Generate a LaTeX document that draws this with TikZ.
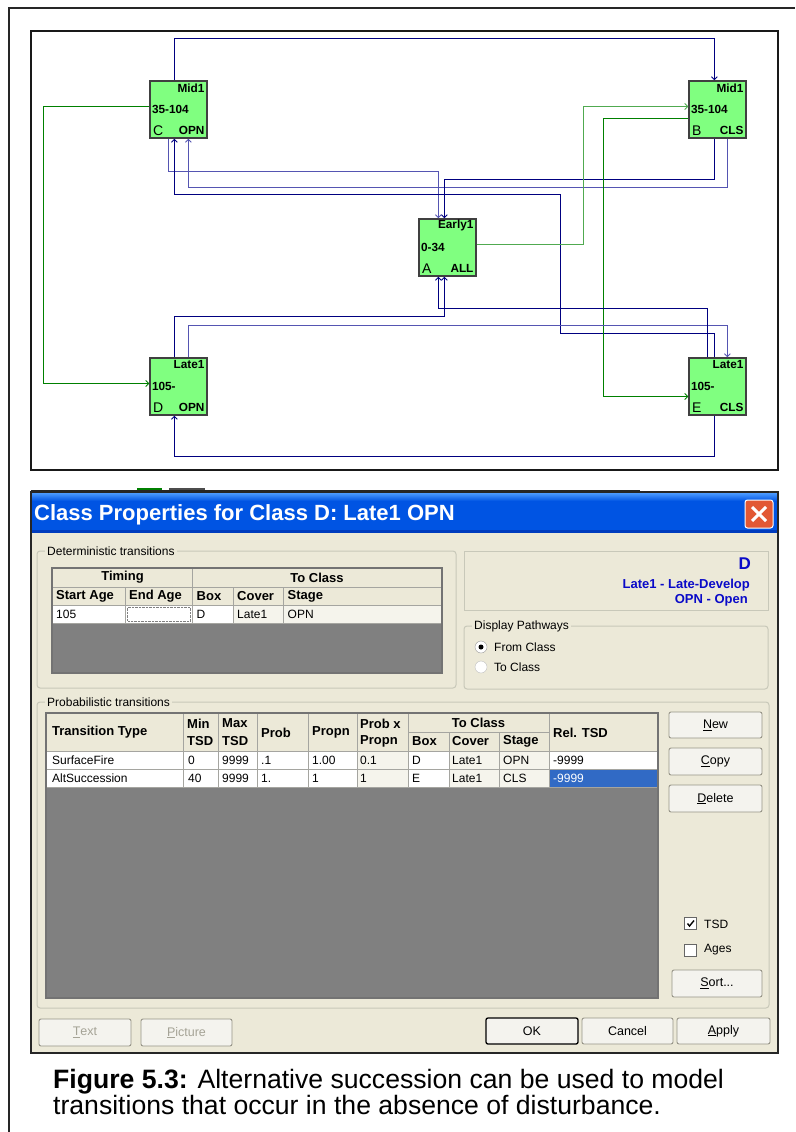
\documentclass[tikz,border=0pt]{standalone}
\usepackage{fontspec}
\setmainfont{Liberation Sans}
\usetikzlibrary{arrows.meta,calc,backgrounds}
\newcommand\fsz[1]{\fontsize{#1}{#1}\selectfont}
\definecolor{nav}{RGB}{0,0,128}
\definecolor{lnav}{RGB}{85,85,178}
\definecolor{grn}{RGB}{0,128,0}
\definecolor{lgrn}{RGB}{80,170,80}
\definecolor{boxfill}{RGB}{128,255,128}
\definecolor{boxedge}{RGB}{64,64,64}
\definecolor{dlg}{RGB}{236,233,216}
\definecolor{cellro}{RGB}{245,244,236}
\definecolor{xpblue}{RGB}{0,84,227}
\definecolor{xplight}{RGB}{70,150,255}
\definecolor{xpdark}{RGB}{0,60,190}
\definecolor{gridc}{RGB}{165,165,160}
\definecolor{grpline}{RGB}{200,200,185}
\definecolor{infoblue}{RGB}{10,10,200}
\definecolor{selblue}{RGB}{49,106,197}
\definecolor{darea}{RGB}{128,128,128}
\definecolor{btnedge}{RGB}{150,148,135}
\definecolor{btnf}{RGB}{244,243,238}
\definecolor{disabled}{RGB}{165,163,150}
\definecolor{closered}{RGB}{226,88,52}
\begin{document}
\begin{tikzpicture}[x=1pt,y=-1pt,
  cls/.style={draw=boxedge,line width=1.3pt,fill=boxfill,minimum width=57pt,minimum height=57pt,inner sep=0pt},
  nb/.style={inner sep=0pt,font=\fsz{11.8}\bfseries},
  nr/.style={inner sep=0pt,font=\fsz{14}},
  dk/.style={draw=nav,line width=1pt},
  lt/.style={draw=lnav,line width=1pt},
  gn/.style={draw=grn,line width=1pt},
  lg/.style={draw=lgrn,line width=1pt},
  arr/.style={-{Straight Barb[length=3pt,width=6pt,line width=0.9pt]}},
  loopc/.style={draw=lnav,line width=1pt},
  tx/.style={inner sep=0pt,anchor=west,font=\fsz{12}},
  th/.style={inner sep=0pt,anchor=west,font=\fsz{13}\bfseries},
  btn/.style={draw=btnedge,fill=btnf,rounded corners=2pt,line width=0.9pt,inner sep=0pt,font=\fsz{12.5}},
  grp/.style={draw=grpline,line width=1pt,rounded corners=3pt},
  glab/.style={inner xsep=2pt,inner ysep=1pt,anchor=west,fill=dlg,font=\fsz{12}}
]
\useasboundingbox (0,0) rectangle (795,1132);
\fill[white] (0,0) rectangle (795,1132);
% page frame
\draw[line width=2pt,black!85] (8.5,1132) -- (8.5,8.5) -- (795,8.5);
% diagram frame
\begin{scope}[on background layer]
\fill[white] (31,31) rectangle (778,470);
\end{scope}
\draw[line width=2pt,black!90] (31,31) rectangle (778,470);

% class boxes
\node[cls] (C) at (178.5,109.5) {};
\node[cls] (B) at (717.5,109.5) {};
\node[cls] (A) at (447.5,247.5) {};
\node[cls] (D) at (178.5,386.5) {};
\node[cls] (E) at (717.5,386.5) {};

\node[nb,anchor=east] (Ct) at ($(C.north east)+(-3,7.5)$) {Mid1};
\node[nb,anchor=west] (Cm) at ($(C.west)+(2.5,0)$) {35-104};
\node[nr,anchor=west] (Cl) at ($(C.south west)+(3.5,-8)$) {C};
\node[nb,anchor=east] (Cr) at ($(C.south east)+(-3,-8)$) {OPN};

\node[nb,anchor=east] (Bt) at ($(B.north east)+(-3,7.5)$) {Mid1};
\node[nb,anchor=west] (Bm) at ($(B.west)+(2.5,0)$) {35-104};
\node[nr,anchor=west] (Bl) at ($(B.south west)+(3.5,-8)$) {B};
\node[nb,anchor=east] (Br) at ($(B.south east)+(-3,-8)$) {CLS};

\node[nb,anchor=east] (At) at ($(A.north east)+(-3,7.5)$) {Early1};
\node[nb,anchor=west] (Am) at ($(A.west)+(2.5,0)$) {0-34};
\node[nr,anchor=west] (Al) at ($(A.south west)+(3.5,-8)$) {A};
\node[nb,anchor=east] (Ar) at ($(A.south east)+(-3,-8)$) {ALL};

\node[nb,anchor=east] (Dt) at ($(D.north east)+(-3,7.5)$) {Late1};
\node[nb,anchor=west] (Dm) at ($(D.west)+(2.5,0)$) {105-};
\node[nr,anchor=west] (Dl) at ($(D.south west)+(3.5,-8)$) {D};
\node[nb,anchor=east] (Dr) at ($(D.south east)+(-3,-8)$) {OPN};

\node[nb,anchor=east] (Et) at ($(E.north east)+(-3,7.5)$) {Late1};
\node[nb,anchor=west] (Em) at ($(E.west)+(2.5,0)$) {105-};
\node[nr,anchor=west] (El) at ($(E.south west)+(3.5,-8)$) {E};
\node[nb,anchor=east] (Er) at ($(E.south east)+(-3,-8)$) {CLS};

% self loops
\begin{scope}[on background layer]
\draw[loopc] ($(C.south east)+(5,0)$) circle[radius=14pt];
\draw[loopc] ($(B.south east)+(5,0)$) circle[radius=14pt];
\draw[loopc] ($(A.south east)+(5,0)$) circle[radius=14pt];
\draw[loopc] ($(D.south east)+(5,0)$) circle[radius=14pt];
\draw[loopc] ($(E.south east)+(5,0)$) circle[radius=14pt];
\end{scope}

% connectors
\draw[dk,arr] ($(C.north west)+(25,0)$) -- ++(0,-42) -| ($(B.north west)+(26,0)$);
\draw[gn,arr] ($(C.west)+(0,-3.5)$) -- ++(-106,0) |- ($(D.west)+(0,-3)$);
\draw[lt,arr] ($(C.south west)+(19,0)$) -- ++(0,33) -| ($(A.north west)+(20,0)$);
\draw[dk,arr] ($(E.north west)+(26,0)$) -- ++(0,-24) -- ++(-154,0) -- ++(0,-139) -| ($(C.south west)+(25,0)$);
\draw[lt,arr] ($(B.south west)+(39,0)$) -- ++(0,49) -| ($(C.south west)+(39,0)$);
\draw[dk,arr] ($(B.south west)+(26,0)$) -- ++(0,41) -| ($(A.north west)+(26,0)$);
\draw[lg,arr] ($(A.east)+(0,-3)$) -- ++(107,0) |- ($(B.west)+(0,-3)$);
\draw[gn,arr] ($(B.west)+(0,9)$) -- ++(-85,0) |- ($(E.west)+(0,10)$);
\draw[dk,arr] ($(D.north west)+(25,0)$) -- ++(0,-41) -| ($(A.south west)+(26,0)$);
\draw[lt,arr] ($(D.north west)+(39,0)$) -- ++(0,-32) -| ($(E.north west)+(39,0)$);
\draw[dk,arr] ($(E.south west)+(26,0)$) -- ++(0,41) -| ($(D.south west)+(25,0)$);
\draw[dk,arr] ($(E.north west)+(19,0)$) -- ++(0,-49) -| ($(A.south west)+(20,0)$);

% strip of window behind
\draw[line width=1.5pt,black!85] (31,491) -- (640,491);
\fill[grn] (137,487.5) rectangle (162,490);
\fill[black!70] (169,487.5) rectangle (205,490);

% dialog
\fill[dlg] (31,492) rectangle (778,1053);
\shade[top color=xplight,bottom color=xpblue] (32,493.5) rectangle (777,501);
\fill[xpblue] (32,501) rectangle (777,530);
\fill[xpdark] (32,530) rectangle (777,533);
\draw[line width=1.5pt,black!85] (31,492) rectangle (778,1053);
\node[inner sep=0pt,anchor=west,text=white,font=\fsz{22}\bfseries] (title) at (34,515) {Class Properties for Class D: Late1 OPN};
\node[draw=white,fill=closered,rounded corners=2.5pt,minimum size=28pt,line width=1pt,inner sep=0pt] (xbtn) at (759,514) {};
\draw[white,line width=3pt] ($(xbtn.center)+(-7,-7)$) -- ($(xbtn.center)+(7,7)$);
\draw[white,line width=3pt] ($(xbtn.center)+(-7,7)$) -- ($(xbtn.center)+(7,-7)$);

% deterministic group
\draw[grp] (37,551) rectangle (456,688);
\node[glab] (g1) at (45,551) {Deterministic transitions};
\fill[dlg] (52,568) rectangle (442,605.5);
\fill[white] (52,605.5) rectangle (233.5,623);
\fill[cellro] (233.5,605.5) rectangle (442,623);
\fill[darea] (52,623) rectangle (442,673);
\draw[gridc] (52,587) -- (442,587) (52,605.5) -- (442,605.5) (52,623) -- (442,623);
\draw[gridc] (192.5,568) -- (192.5,623);
\draw[gridc] (125,587) -- (125,623) (233.5,587) -- (233.5,623) (283.5,587) -- (283.5,623);
\draw[densely dotted,gray] (127.5,607.5) rectangle (190.5,621);
\draw[line width=1.2pt,black!55] (52,568) rectangle (442,673);
\node[th,anchor=center] (d1) at (122.5,577.5) {Timing};
\node[th,anchor=center] (d2) at (317,577.5) {To Class};
\node[th] (d3) at (56,596.5) {Start Age};
\node[th] (d4) at (129,596.5) {End Age};
\node[th] (d5) at (196.5,596.5) {Box};
\node[th] (d6) at (237,596.5) {Cover};
\node[th] (d7) at (287.5,596.5) {Stage};
\node[tx] (d8) at (56,614.5) {105};
\node[tx] (d9) at (196.5,614.5) {D};
\node[tx] (d10) at (237,614.5) {Late1};
\node[tx] (d11) at (287.5,614.5) {OPN};

% info box
\draw[draw=grpline,line width=1pt] (464,551) rectangle (768,610);
\node[inner sep=0pt,anchor=east,text=infoblue,font=\fsz{17}\bfseries] (iD) at (751,564) {D};
\node[inner sep=0pt,anchor=east,text=infoblue,font=\fsz{13}\bfseries] (i1) at (750,585) {Late1 - Late-Develop};
\node[inner sep=0pt,anchor=east,text=infoblue,font=\fsz{13}\bfseries] (i2) at (748,600) {OPN - Open};

% display pathways
\draw[grp] (464,626) rectangle (768,689);
\node[glab] (g2) at (472,626) {Display Pathways};
\node[circle,draw=gray!80,fill=white,minimum size=12pt,inner sep=0pt] (r1) at (481,647) {};
\fill[black] (r1.center) circle[radius=2.5pt];
\node[circle,draw=gray!50,fill=white,minimum size=12pt,inner sep=0pt] (r2) at (481,667) {};
\node[tx] (r1t) at (494,647) {From Class};
\node[tx] (r2t) at (494,667) {To Class};

% probabilistic group
\draw[grp] (37,702) rectangle (769,1008);
\node[glab] (g3) at (45,702) {Probabilistic transitions};
\fill[dlg] (46,713) rectangle (658,751);
\fill[white] (46,751) rectangle (357,787.5);
\fill[cellro] (357,751) rectangle (408,787.5);
\fill[white] (408,751) rectangle (449,787.5);
\fill[cellro] (449,751) rectangle (549,787.5);
\fill[white] (549,751) rectangle (658,769);
\fill[selblue] (549,769) rectangle (658,787.5);
\fill[darea] (46,787.5) rectangle (658,998);
\draw[gridc] (408,732) -- (549,732);
\draw[gridc] (46,751) -- (658,751) (46,769) -- (658,769) (46,787.5) -- (658,787.5);
\foreach \xx in {183,218,257,308,357,408,549} \draw[gridc] (\xx,713) -- (\xx,787.5);
\foreach \xx in {449,499} \draw[gridc] (\xx,732) -- (\xx,787.5);
\draw[line width=1.2pt,black!55] (46,713) rectangle (658,998);
\node[th] (p1) at (52,732.5) {Transition Type};
\node[th] (p2) at (187,723.5) {Min};
\node[th] (p3) at (187,741.5) {TSD};
\node[th] (p4) at (222,723.5) {Max};
\node[th] (p5) at (222,741.5) {TSD};
\node[th] (p6) at (261,732.5) {Prob};
\node[th] (p7) at (312,732.5) {Propn};
\node[th] (p8) at (360,723.5) {Prob x};
\node[th] (p9) at (360,741.5) {Propn};
\node[th,anchor=center] (p10) at (478.5,722.5) {To Class};
\node[th] (p11) at (412,741.5) {Box};
\node[th] (p12) at (452,741.5) {Cover};
\node[th] (p13) at (503,741.5) {Stage};
\node[th] (p14) at (553,732.5) {Rel. TSD};
\node[tx] (q1) at (52,760) {SurfaceFire};
\node[tx] (q2) at (188,760) {0};
\node[tx] (q3) at (222,760) {9999};
\node[tx] (q4) at (261,760) {.1};
\node[tx] (q5) at (312,760) {1.00};
\node[tx] (q6) at (360,760) {0.1};
\node[tx] (q7) at (412,760) {D};
\node[tx] (q8) at (452,760) {Late1};
\node[tx] (q9) at (503,760) {OPN};
\node[tx] (q10) at (553,760) {-9999};
\node[tx] (s1) at (52,778) {AltSuccession};
\node[tx] (s2) at (188,778) {40};
\node[tx] (s3) at (222,778) {9999};
\node[tx] (s4) at (261,778) {1.};
\node[tx] (s5) at (312,778) {1};
\node[tx] (s6) at (360,778) {1};
\node[tx] (s7) at (412,778) {E};
\node[tx] (s8) at (452,778) {Late1};
\node[tx] (s9) at (503,778) {CLS};
\node[tx,text=white] (s10) at (553,778) {-9999};

% buttons
\node[btn,minimum width=93pt,minimum height=26pt] (bNew) at (715.5,725) {\underline{N}ew};
\node[btn,minimum width=93pt,minimum height=27pt] (bCopy) at (715.5,761.5) {\underline{C}opy};
\node[btn,minimum width=93pt,minimum height=27pt] (bDel) at (715.5,798.5) {\underline{D}elete};
\node[btn,minimum width=90pt,minimum height=27pt] (bSort) at (717,983.5) {\underline{S}ort...};
\node[btn,minimum width=92pt,minimum height=27pt,text=disabled] (bText) at (85,1032.5) {\underline{T}ext};
\node[btn,minimum width=91pt,minimum height=27pt,text=disabled] (bPic) at (186.5,1032.5) {\underline{P}icture};
\node[btn,minimum width=92pt,minimum height=26pt,draw=black,line width=1.3pt] (bOK) at (532,1031) {OK};
\node[btn,minimum width=91pt,minimum height=26pt] (bCancel) at (627.5,1031) {Cancel};
\node[btn,minimum width=93pt,minimum height=26pt] (bApply) at (723.5,1031) {\underline{A}pply};

% checkboxes
\node[draw=black!60,fill=white,minimum size=12pt,inner sep=0pt,line width=0.9pt] (cb1) at (690.5,923.5) {};
\draw[line width=1.4pt] ($(cb1.center)+(-3,0)$) -- ($(cb1.center)+(-1,2.5)$) -- ($(cb1.center)+(3.5,-3)$);
\node[draw=black!60,fill=white,minimum size=12pt,inner sep=0pt,line width=0.9pt] (cb2) at (690.5,950) {};
\node[tx] (cb1t) at (704,924) {TSD};
\node[tx] (cb2t) at (704,950) {Ages};

% caption
\node[inner sep=0pt,anchor=base west,font=\fsz{26.6}] (cap1) at (53,1088) {\textbf{Figure 5.3:} Alternative succession can be used to model};
\node[inner sep=0pt,anchor=base west,font=\fsz{26.6}] (cap2) at (53,1114) {transitions that occur in the absence of disturbance.};
\end{tikzpicture}
\end{document}
